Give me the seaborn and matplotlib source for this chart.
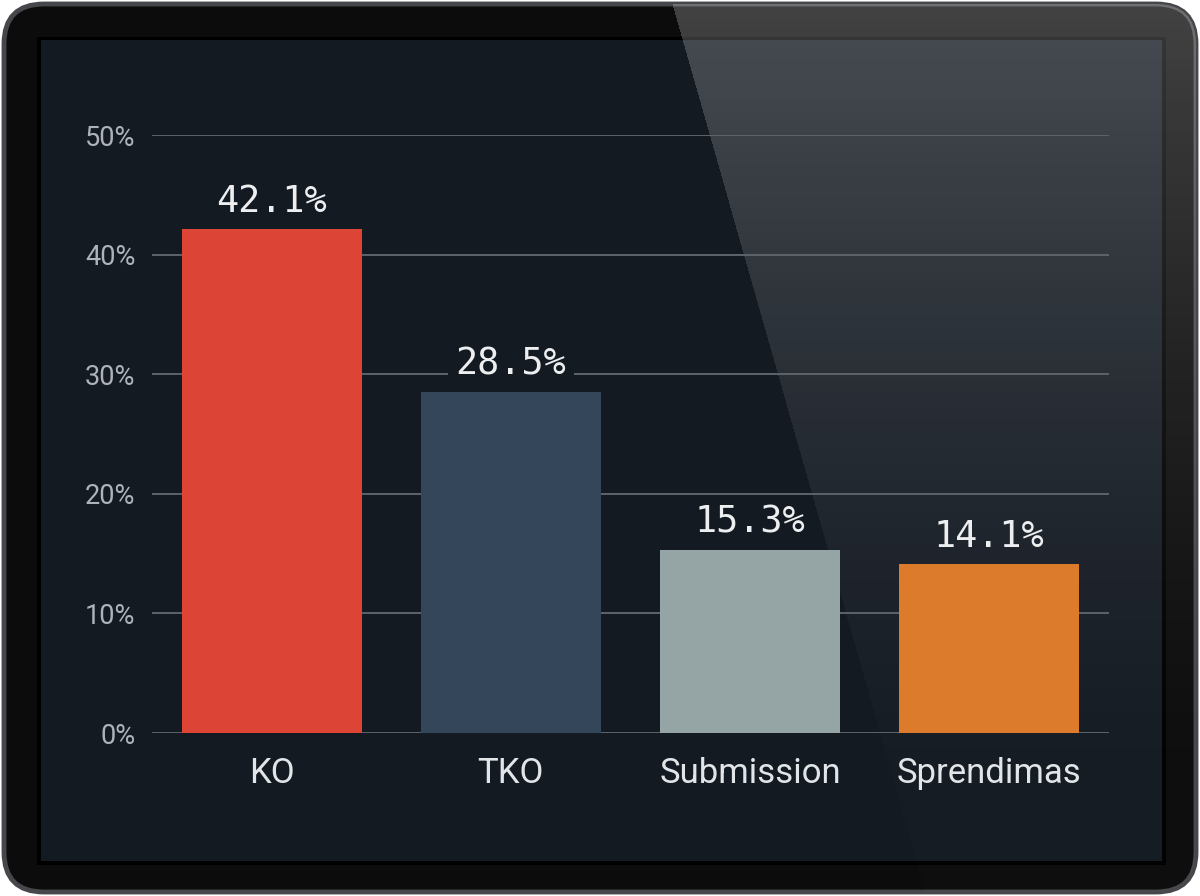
import numpy as np
import pandas as pd
import matplotlib
matplotlib.use("Agg")
import matplotlib.pyplot as plt
from matplotlib.patches import FancyBboxPatch, Rectangle
import seaborn as sns

# ---- data ----
categories = ["KO", "TKO", "Submission", "Sprendimas"]
values = [42.1, 28.5, 15.3, 14.1]
bar_colors = ["#dc4535", "#34475a", "#95a5a6", "#db7b2b"]
y_ticks = [0, 10, 20, 30, 40, 50]
y_tick_labels = [f"{t}%" for t in y_ticks]

sns.set_style("white")
plt.rcParams["font.family"] = ["Roboto", "DejaVu Sans"]

W, H = 1200, 896
fig = plt.figure(figsize=(W / 100, H / 100), dpi=100, facecolor="white")

# ---- device frame (background layer) ----
bg = fig.add_axes([0, 0, 1, 1], zorder=0)
bg.set_xlim(0, W)
bg.set_ylim(H, 0)
bg.axis("off")
device = FancyBboxPatch((4, 4), W - 8, H - 8,
                        boxstyle="round,pad=0,rounding_size=40",
                        fc="#0c0c0d", ec="#46474a", lw=3.5)
bg.add_patch(device)
bg.add_patch(Rectangle((37, 37), 1129, 828, fc="#000000", ec="none"))
SCREEN = "#141a22"
bg.add_patch(Rectangle((41, 40), 1121, 821, fc=SCREEN, ec="none"))


def glare_edge(y):
    return 671 + 0.285 * y


# ---- glare (behind the chart marks) ----
yy, xx = np.mgrid[0:H, 0:W]
fade = 0.215 * np.clip(1 - yy / 800, 0, 1) ** 1.5 + 0.012
alpha = np.where(xx > glare_edge(yy), fade, 0.0)
img = np.zeros((H, W, 4))
img[..., :3] = 1.0
img[..., 3] = np.clip(alpha, 0, 1)
im = bg.imshow(img, extent=(0, W, H, 0), interpolation="bilinear", aspect="auto", zorder=5)
clip = FancyBboxPatch((4, 4), W - 8, H - 8, boxstyle="round,pad=0,rounding_size=40",
                      fc="none", ec="none", transform=bg.transData)
bg.add_patch(clip)
im.set_clip_path(clip)
bg.set_xlim(0, W)
bg.set_ylim(H, 0)

# ---- chart ----
ax = fig.add_axes([152 / W, 1 - 733 / H, (1109 - 152) / W, (733 - 135) / H], zorder=1)
ax.patch.set_alpha(0)
df = pd.DataFrame({"cat": categories, "val": values})
sns.barplot(data=df, x="cat", y="val", hue="cat", palette=bar_colors,
            width=0.752, saturation=1, legend=False, ax=ax, zorder=3, linewidth=0)
ax.set_xlim(-0.5, len(categories) - 0.5)
ax.set_ylim(0, 50)
ax.set_yticks(y_ticks)
ax.set_yticklabels(y_tick_labels)
ax.set_xlabel("")
ax.set_ylabel("")
ax.set_axisbelow(True)
ax.yaxis.grid(True, color="#5c636b", lw=1.4)
ax.xaxis.grid(False)
for s in ax.spines.values():
    s.set_visible(False)
ax.tick_params(axis="y", length=0, pad=12, labelsize=19.5, labelcolor="#aeb3b9")
ax.tick_params(axis="x", length=0, pad=17, labelsize=25, labelcolor="#e2e5e8")

for i, v in enumerate(values):
    px, py = ax.transData.transform((i, v))
    y_top = H - py
    in_glare = px + 70 > glare_edge(y_top)
    box = None if in_glare else dict(boxstyle="square,pad=0.2", fc=SCREEN, ec="none")
    ax.annotate(f"{v}%", xy=(i, v), xytext=(0, 20), textcoords="offset points",
                ha="center", va="center", fontsize=26.5, color="#eceef0",
                family=["DejaVu Sans Mono"], annotation_clip=False, zorder=5,
                bbox=box)

fig.savefig("out.png", dpi=100, facecolor="white")
